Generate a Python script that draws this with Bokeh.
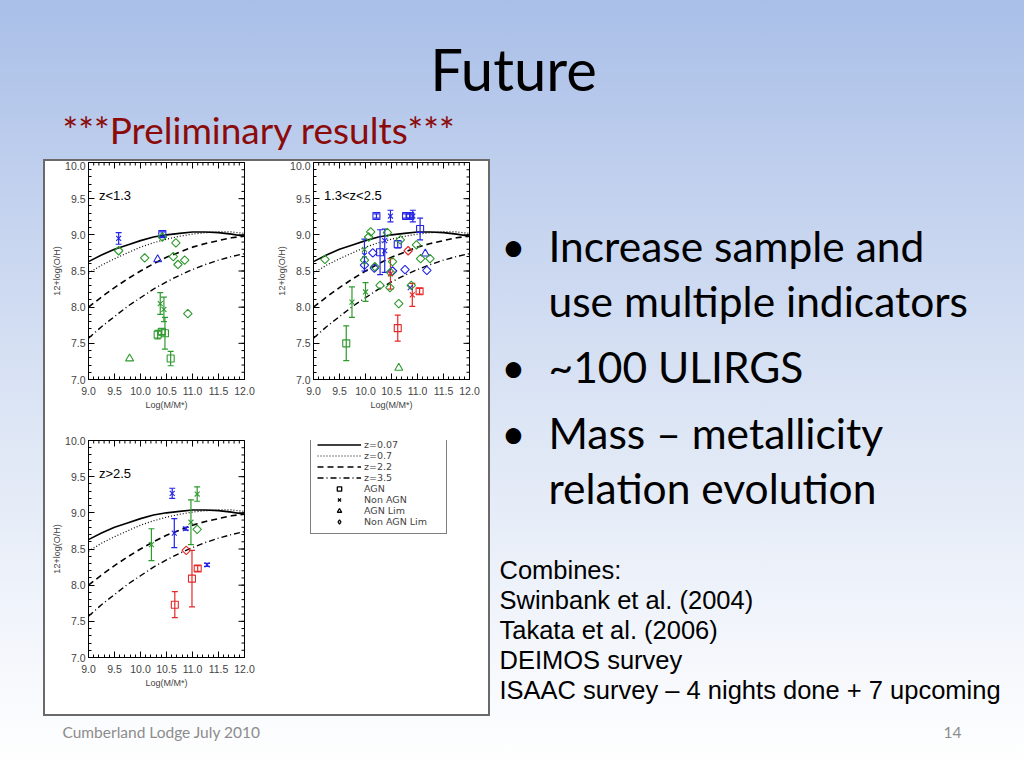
from bokeh.plotting import figure
from bokeh.models import (Range1d, LinearAxis, SingleIntervalTicker, PrintfTickFormatter,
                          Legend, LegendItem, ColumnDataSource, Spacer)
from bokeh.layouts import row, column
from bokeh.core.properties import value
from bokeh.embed import file_html
from bokeh.resources import INLINE

# ---------------- data ----------------
curve_mass = [9.0, 9.25, 9.5, 9.75, 10.0, 10.25, 10.5, 10.75, 11.0, 11.25, 11.5, 11.75, 12.0]
curve_z007 = [8.63, 8.72, 8.80, 8.86, 8.92, 8.97, 9.00, 9.02, 9.04, 9.04, 9.03, 9.01, 8.98]
curve_z07 = [8.47, 8.58, 8.67, 8.75, 8.83, 8.89, 8.94, 8.98, 9.01, 9.03, 9.04, 9.04, 9.02]
curve_z22 = [8.00, 8.14, 8.27, 8.39, 8.50, 8.60, 8.69, 8.76, 8.83, 8.88, 8.92, 8.96, 8.98]
curve_z35 = [7.57, 7.73, 7.87, 8.01, 8.13, 8.25, 8.35, 8.44, 8.52, 8.59, 8.65, 8.70, 8.74]
curve_labels = ["z=0.07", "z=0.7", "z=2.2", "z=3.5"]
type_labels = ["AGN", "Non AGN", "AGN Lim", "Non AGN Lim"]
panel_titles = ["z<1.3", "1.3<z<2.5", "z>2.5"]

p1_mass = [9.58, 10.42, 10.33, 9.58, 10.08, 10.42, 10.68, 10.63, 10.72, 10.85, 10.91,
           10.38, 10.45, 10.47, 10.33, 10.41, 10.58, 9.79]
p1_oh = [8.95, 9.01, 8.66, 8.78, 8.68, 8.97, 8.89, 8.70, 8.59, 8.65, 7.91,
         8.05, 7.97, 7.64, 7.62, 7.66, 7.29, 7.29]
p1_err = [0.08, 0.03, 0, 0, 0, 0, 0, 0, 0, 0, 0, 0.15, 0.17, 0.22, 0.06, 0.04, 0.10, 0]
p1_type = ["Non AGN", "AGN", "AGN Lim"] + ["Non AGN Lim"] * 8 + ["Non AGN", "Non AGN",
           "AGN", "AGN", "AGN", "AGN", "AGN Lim"]
p1_col = ["blue", "blue", "blue"] + ["green"] * 15

p2_mass = [10.21, 10.48, 10.78, 10.86, 10.91, 11.05, 10.62, 10.28, 10.37, 10.37, 9.98, 9.98,
           10.14, 10.17, 10.52, 10.76, 11.18, 11.15, 10.86,
           9.22, 10.10, 10.06, 10.42, 10.67, 10.98, 11.06, 11.24, 10.52, 10.48, 10.28, 10.47,
           10.64, 10.88, 9.98, 10.18, 9.98, 9.74, 10.00, 9.63, 10.64,
           10.48, 10.82, 10.90, 11.04, 10.62]
p2_oh = [9.26, 9.26, 9.26, 9.26, 9.26, 9.08, 8.87, 8.76, 8.78, 8.92, 8.72, 8.58,
         8.75, 8.54, 8.50, 8.52, 8.51, 8.74, 8.27,
         8.66, 9.04, 8.97, 9.03, 8.93, 8.86, 8.67, 8.67, 8.63, 8.48, 8.30, 8.27,
         8.05, 8.30, 8.65, 8.56, 8.80, 8.07, 8.21, 7.50, 7.16,
         8.46, 8.78, 8.17, 8.22, 7.71]
p2_err = [0.03, 0.08, 0.03, 0.03, 0.08, 0.15, 0.05, 0.31, 0.30, 0, 0.22, 0,
          0, 0, 0, 0, 0, 0, 0,
          0, 0, 0, 0, 0, 0, 0, 0, 0, 0, 0, 0,
          0, 0, 0, 0, 0, 0.21, 0.13, 0.24, 0,
          0.21, 0, 0.16, 0.04, 0.18]
p2_type = ["AGN", "Non AGN", "AGN", "AGN", "Non AGN", "AGN", "AGN", "AGN", "Non AGN", "Non AGN",
           "Non AGN", "Non AGN Lim", "Non AGN Lim", "Non AGN Lim", "Non AGN Lim", "Non AGN Lim",
           "Non AGN Lim", "AGN Lim", "Non AGN"] + ["Non AGN Lim"] * 16 + \
          ["Non AGN", "Non AGN", "Non AGN", "AGN", "AGN Lim",
           "Non AGN", "Non AGN Lim", "Non AGN", "AGN", "AGN"]
p2_col = ["blue"] * 19 + ["green"] * 21 + ["red"] * 5

p3_mass = [10.61, 11.09, 10.97, 11.09, 10.87, 10.65, 10.21, 10.88, 10.99, 11.10, 11.28, 10.66]
p3_oh = [9.27, 9.26, 8.87, 8.77, 8.78, 8.72, 8.56, 8.48, 8.09, 8.23, 8.28, 7.73]
p3_err = [0.07, 0.10, 0.31, 0, 0.02, 0.20, 0.22, 0, 0.39, 0.04, 0.02, 0.18]
p3_type = ["Non AGN", "Non AGN", "Non AGN", "Non AGN Lim", "Non AGN", "Non AGN", "Non AGN",
           "Non AGN Lim", "AGN", "AGN", "Non AGN", "AGN"]
p3_col = ["blue", "green", "green", "green", "blue", "blue", "green", "red", "red", "red",
          "blue", "red"]

title_text = "Future"
subtitle_text = "***Preliminary results***"
bullet_lines = ["Increase sample and", "use multiple indicators", "~100 ULIRGS",
                "Mass \u2013 metallicity", "relation evolution"]
combine_lines = ["Combines:", "Swinbank et al. (2004)", "Takata et al. (2006)",
                 "DEIMOS survey", "ISAAC survey \u2013 4 nights done + 7 upcoming"]
footer_left = "Cumberland Lodge July 2010"
footer_right = "14"

# ---------------- styles ----------------
COLORS = {"blue": "#2323e6", "green": "#2e9a2e", "red": "#e62828"}
MARKERS = {"AGN": "square", "Non AGN": "x", "AGN Lim": "triangle", "Non AGN Lim": "square"}
LEG_MARKERS = {"AGN": "square", "Non AGN": "x", "AGN Lim": "triangle", "Non AGN Lim": "diamond"}
SIZES = {"AGN": 7, "Non AGN": 7, "AGN Lim": 8, "Non AGN Lim": 6}
ANGLES = {"AGN": 0.0, "Non AGN": 0.0, "AGN Lim": 0.0, "Non AGN Lim": 0.7854}
DASHES = ["solid", "1 2", "6 4", "6 3 1 3"]
WIDTHS = [1.6, 1.2, 1.6, 1.4]
PANEL_FONT = "Liberation Sans"
BASE_SHIFT = 0.39  # svg text baseline correction (em)


def style_axis(ax, xaxis=True):
    ax.axis_line_color = "black"
    ax.major_tick_in = 6
    ax.major_tick_out = 0
    ax.minor_tick_in = 3
    ax.minor_tick_out = 0
    ax.major_tick_line_color = "black"
    ax.minor_tick_line_color = "black"
    ax.major_label_text_font = PANEL_FONT
    ax.major_label_text_font_size = "10.5px"
    ax.major_label_standoff = 7 if xaxis else 3
    ax.axis_label_text_font = PANEL_FONT
    ax.axis_label_text_font_size = "9px"
    ax.axis_label_text_font_style = "normal"
    ax.axis_label_standoff = 2 if xaxis else 0


def make_panel(w, h, bl, br, bt, bb, mass, oh, err, typ, col, label):
    p = figure(width=w, height=h, x_range=Range1d(9, 12), y_range=Range1d(7, 10),
               x_axis_type=None, y_axis_type=None, toolbar_location=None,
               output_backend="svg", title=None,
               min_border_left=bl, min_border_right=br, min_border_top=bt, min_border_bottom=bb)
    p.background_fill_color = "white"
    p.border_fill_color = "white"
    p.outline_line_color = "black"
    ax = LinearAxis(ticker=SingleIntervalTicker(interval=0.5, num_minor_ticks=5),
                    formatter=PrintfTickFormatter(format="%.1f"), axis_label="Log(M/M*)")
    style_axis(ax, xaxis=True)
    p.add_layout(ax, "below")
    ay = LinearAxis(ticker=SingleIntervalTicker(interval=0.5, num_minor_ticks=5),
                    formatter=PrintfTickFormatter(format="%.1f"), axis_label="12+log(O/H)")
    style_axis(ay, xaxis=False)
    p.add_layout(ay, "left")

    # inward ticks on the top and right edges (mirrored frame ticks)
    major = [9.0 + 0.5 * i for i in range(7)]
    minor = [9.0 + 0.1 * i for i in range(31)]
    major_y = [7.0 + 0.5 * i for i in range(7)]
    minor_y = [7.0 + 0.1 * i for i in range(31)]
    p.scatter(major, [10] * len(major), marker="dash", angle=1.5708, size=12, line_color="black")
    p.scatter(minor, [10] * len(minor), marker="dash", angle=1.5708, size=6, line_color="black")
    p.scatter([12] * len(major_y), major_y, marker="dash", size=12, line_color="black")
    p.scatter([12] * len(minor_y), minor_y, marker="dash", size=6, line_color="black")

    for ys, dash, lw in zip([curve_z007, curve_z07, curve_z22, curve_z35], DASHES, WIDTHS):
        p.line(curve_mass, ys, line_color="black", line_dash=dash, line_width=lw)

    # error bars
    ex = [m for m, e in zip(mass, err) if e > 0]
    elo = [o - e for o, e in zip(oh, err) if e > 0]
    ehi = [o + e for o, e in zip(oh, err) if e > 0]
    ec = [COLORS[c] for c, e in zip(col, err) if e > 0]
    esrc = ColumnDataSource(dict(x=ex, lo=elo, hi=ehi, c=ec))
    p.segment(x0="x", y0="lo", x1="x", y1="hi", line_color="c", line_width=1.2, source=esrc)
    p.scatter(x="x", y="lo", marker="dash", size=6, line_color="c", line_width=1.2, source=esrc)
    p.scatter(x="x", y="hi", marker="dash", size=6, line_color="c", line_width=1.2, source=esrc)

    src = ColumnDataSource(dict(
        x=mass, y=oh,
        marker=[MARKERS[t] for t in typ],
        size=[SIZES[t] for t in typ],
        angle=[ANGLES[t] for t in typ],
        c=[COLORS[c] for c in col]))
    p.scatter(x="x", y="y", marker="marker", size="size", angle="angle",
              line_color="c", fill_color=None, line_width=1.1, source=src)

    p.text(x=[9.2], y=[9.55], text=[label], text_font=value(PANEL_FONT),
           text_font_size="13px", text_baseline="middle", text_color="black")
    return p


fig1 = make_panel(224, 259, 43, 25, 1, 41, p1_mass, p1_oh, p1_err, p1_type, p1_col, panel_titles[0])
fig2 = make_panel(219, 259, 44, 19, 1, 41, p2_mass, p2_oh, p2_err, p2_type, p2_col, panel_titles[1])
fig3 = make_panel(224, 294, 43, 25, 20, 57, p3_mass, p3_oh, p3_err, p3_type, p3_col, panel_titles[2])

# legend panel: proxies use real data but fall outside this panel's ranges
fig4 = figure(width=219, height=294, x_range=Range1d(0, 1), y_range=Range1d(0, 1),
              x_axis_type=None, y_axis_type=None, toolbar_location=None, output_backend="svg",
              title=None, min_border_left=41, min_border_top=20, min_border_right=0,
              min_border_bottom=57)
fig4.outline_line_color = None
fig4.background_fill_color = "white"
fig4.border_fill_color = "white"
items = []
for lab, ys, dash, lw in zip(curve_labels, [curve_z007, curve_z07, curve_z22, curve_z35],
                             DASHES, WIDTHS):
    r = fig4.line(curve_mass, ys, line_color="black", line_dash=dash, line_width=lw)
    items.append(LegendItem(label=lab, renderers=[r]))
for lab in type_labels:
    k = p2_type.index(lab)
    r = fig4.scatter([p2_mass[k]], [p2_oh[k]], marker=LEG_MARKERS[lab], size=SIZES[lab],
                     line_color="black", fill_color=None, line_width=1.3)
    items.append(LegendItem(label=lab, renderers=[r]))
leg = Legend(items=items, location=(0, 123), margin=0, padding=6, spacing=0,
             label_height=10, glyph_height=11, glyph_width=44, label_standoff=3,
             label_width=76, label_text_font="DejaVu Sans", label_text_font_size="9.5px",
             border_line_color="black", border_line_width=1, background_fill_color="white",
             background_fill_alpha=1.0)
fig4.add_layout(leg)

inner = column(row(fig1, fig2), row(fig3, fig4), margin=2,
               styles={"background-color": "white"})
box = column(inner, styles={"background-color": "#6a6a6a"})


def text_fig(w, h):
    p = figure(width=w, height=h, x_range=Range1d(0, w), y_range=Range1d(h, 0),
               x_axis_type=None, y_axis_type=None, toolbar_location=None,
               output_backend="svg", title=None, min_border=0)
    p.outline_line_color = None
    p.background_fill_color = None
    p.border_fill_color = None
    return p


def put_text(p, xs, baselines, texts, font, size, color="black", align="left"):
    ys = [b - BASE_SHIFT * size for b in baselines]
    p.text(x=xs, y=ys, text=texts, text_font=value(font), text_font_size=f"{size}px",
           text_align=align, text_baseline="alphabetic", text_color=color)


tfig = text_fig(1024, 108)
put_text(tfig, [513], [91], [title_text], "Lato", 58, align="center")

sfig = text_fig(490, 51)
put_text(sfig, [62], [35], [subtitle_text], "Lato", 37, color="#8b0b0b")

rfig = text_fig(534, 608)
bullet_base = [154, 209, 275, 341, 396]
put_text(rfig, [23, 23, 23], [bullet_base[0], bullet_base[2], bullet_base[3]], ["\u2022"] * 3,
         "Lato", 42, align="center")
put_text(rfig, [58] * 5, bullet_base, bullet_lines, "Lato", 42.5)
put_text(rfig, [9] * 5, [471, 501, 531, 561, 591], combine_lines, "Liberation Sans", 25.5)

ffig = text_fig(1024, 52)
put_text(ffig, [62], [22], [footer_left], "Lato", 15.5, color="#8c8c8c")
put_text(ffig, [961], [22], [footer_right], "Lato", 15.5, color="#8c8c8c", align="right")

left_col = column(sfig, row(Spacer(width=43, height=557), box))
root = column(tfig, row(left_col, rfig), ffig,
              styles={"background": "linear-gradient(180deg, #a9bfe8 0%, #c2d1ee 25%, "
                                    "#dde6f5 55%, #f2f5fb 82%, #ffffff 100%)"})

open("out.html", "w").write(file_html(root, INLINE))
